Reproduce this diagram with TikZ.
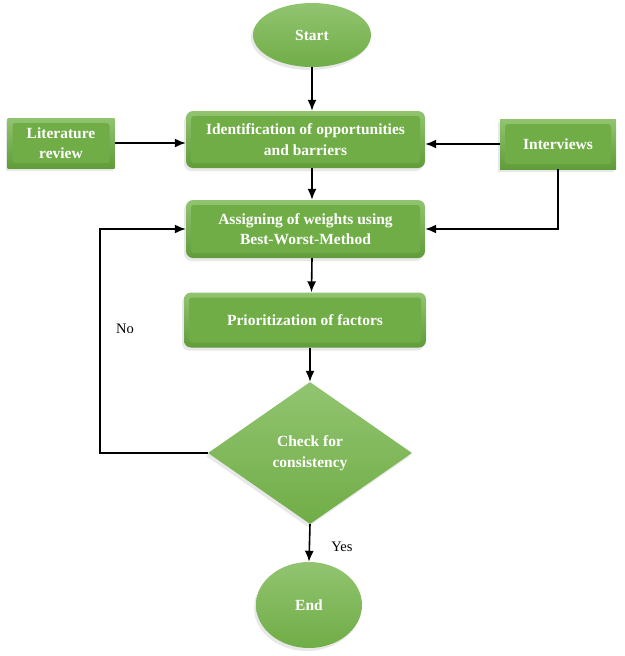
\documentclass[tikz,border=0pt]{standalone}
\usepackage{fontspec}
\setmainfont{Liberation Serif}
\usetikzlibrary{arrows,arrows.meta,shapes,shadows}
\definecolor{boxgreen}{RGB}{112,173,71}
\definecolor{litegreen}{RGB}{146,196,112}
\definecolor{darkgreen}{RGB}{96,156,58}
\tikzstyle{greenbase} = [draw=none, text=white, align=center, inner sep=0pt, font=\fontsize{15.5}{20.5}\selectfont\bfseries, drop shadow={shadow xshift=-2pt,shadow yshift=-3pt,opacity=0.18}]
\tikzstyle{bevelbox} = [greenbase, rectangle, top color=litegreen, bottom color=darkgreen, path picture={\fill[boxgreen, rounded corners=3pt] ([shift={(5pt,5pt)}]path picture bounding box.south west) rectangle ([shift={(-5pt,-5pt)}]path picture bounding box.north east);}]
\tikzstyle{process} = [bevelbox, rounded corners=7pt]
\tikzstyle{source} = [bevelbox]
\tikzstyle{terminal} = [greenbase, ellipse, top color=litegreen, bottom color=boxgreen]
\tikzstyle{decision} = [greenbase, diamond, top color=litegreen, bottom color=boxgreen]
\tikzstyle{arrow} = [line width=1.6pt,->,>={Latex[length=11pt,width=9pt]}]
\tikzstyle{answer} = [font=\fontsize{14.5}{16}\selectfont]

\begin{document}
\begin{tikzpicture}[x=1pt,y=-1pt]
    \useasboundingbox (0,0) rectangle (624,656);
    % flow nodes
    \node [terminal, minimum width=118, minimum height=64] (start) at (312,35) {Start};
    \node [source, minimum width=107, minimum height=50] (lit) at (61,143) {Literature\\review};
    \node [process, minimum width=239, minimum height=57] (ident) at (305.5,139.5) {Identification of opportunities\\and barriers};
    \node [source, minimum width=116, minimum height=50] (inter) at (558,144) {Interviews};
    \node [process, minimum width=239, minimum height=58] (assign) at (305.5,229) {Assigning of weights using\\Best-Worst-Method};
    \node [process, minimum width=242, minimum height=55] (prior) at (305,320) {Prioritization of factors};
    \node [decision, minimum width=204, minimum height=142] (check) at (310,453) {Check for\\consistency};
    \node [terminal, minimum width=106, minimum height=86] (end) at (309,605) {End};
    \coordinate (loop) at (100,453);
    % connectors
    \draw [arrow] (start.south) -- (start.south |- ident.north);
    \draw [arrow] (lit.east) -- (lit.east -| ident.west);
    \draw [arrow] (inter.west) -- (inter.west -| ident.east);
    \draw [arrow] ([xshift=6.5pt]ident.south) -- ([xshift=6.5pt]assign.north);
    \draw [arrow] (inter.south) |- (assign.east);
    \draw [arrow] ([xshift=6.5pt]assign.south) -- ([xshift=6.5pt]prior.north);
    \draw [arrow] (prior.south -| check.north) -- (check.north);
    \draw [arrow] (check.west) -- (loop) |- (assign.west);
    \draw [arrow] (check.south) -- (end.north);
    \node [answer] (no) at (125,329) {No};
    \node [answer] (yes) at (342,547) {Yes};
\end{tikzpicture}
\end{document}
